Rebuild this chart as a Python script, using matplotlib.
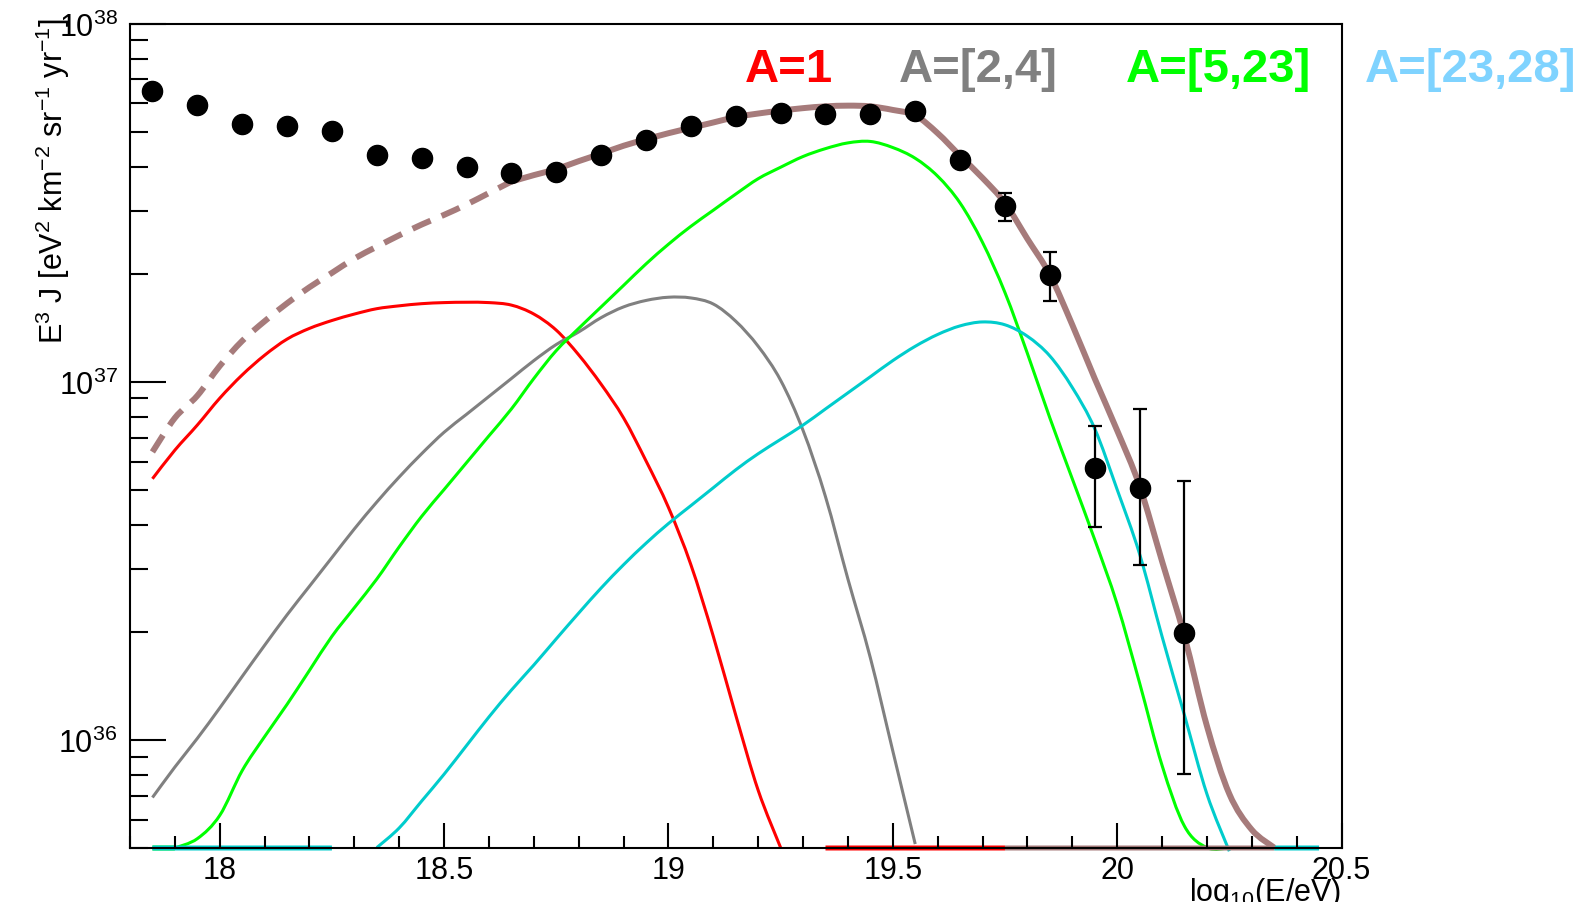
import numpy as np
import matplotlib.pyplot as plt
from matplotlib.path import Path
from matplotlib.patches import PathPatch
from matplotlib.ticker import MultipleLocator, FormatStrFormatter, LogLocator, NullFormatter

plt.rcParams['font.family'] = ['Liberation Sans', 'DejaVu Sans']
plt.rcParams['mathtext.fontset'] = 'custom'
plt.rcParams['mathtext.rm'] = 'Liberation Sans'
plt.rcParams['mathtext.it'] = 'Liberation Sans:italic'
plt.rcParams['mathtext.bf'] = 'Liberation Sans:bold'

# log10(E/eV) grid of the model curves
Z = -np.inf      # zero flux -> drawn on the frame floor (as ROOT does)
nan = np.nan     # not drawn
log_e = np.round(np.arange(17.85, 20.451, 0.05), 2)

# model curves, log10(E^3 J)
red_logs = [36.73, 36.81, 36.88, 36.955, 37.02, 37.075, 37.12, 37.15, 37.172, 37.19,
            37.205, 37.213, 37.219, 37.222, 37.223, 37.222, 37.215, 37.19, 37.145, 37.076,
            36.994, 36.90, 36.78, 36.65, 36.49, 36.29, 36.07, 35.86, 35.70, nan,
            Z, Z, Z, Z, Z, Z, Z, Z, Z, nan,
            nan, nan, nan, nan, nan, nan, nan, nan, nan, nan,
            nan, nan, nan]
gray_logs = [35.84, 35.925, 36.005, 36.09, 36.178, 36.265, 36.35, 36.43, 36.51, 36.59,
             36.665, 36.735, 36.80, 36.86, 36.91, 36.96, 37.01, 37.06, 37.105, 37.14,
             37.18, 37.21, 37.228, 37.237, 37.235, 37.218, 37.17, 37.10, 37.005, 36.865,
             36.68, 36.45, 36.23, 35.97, 35.71, nan, nan, nan, nan, nan,
             nan, nan, nan, nan, nan, nan, nan, nan, nan, nan,
             nan, nan, nan]
green_logs = [Z, Z, 35.725, 35.79, 35.915, 36.01, 36.10, 36.195, 36.29, 36.37,
              36.45, 36.54, 36.625, 36.70, 36.775, 36.85, 36.925, 37.01, 37.088, 37.15,
              37.21, 37.27, 37.33, 37.385, 37.435, 37.48, 37.525, 37.568, 37.60, 37.63,
              37.652, 37.668, 37.672, 37.655, 37.625, 37.575, 37.50, 37.39, 37.25, 37.08,
              36.90, 36.73, 36.56, 36.38, 36.16, 35.93, 35.76, 35.70, Z, nan,
              nan, nan, nan]
cyan_logs = [Z, Z, Z, Z, Z, Z, Z, Z, Z, nan,
             35.70, 35.755, 35.83, 35.905, 35.985, 36.065, 36.14, 36.21, 36.283, 36.355,
             36.425, 36.49, 36.55, 36.605, 36.655, 36.705, 36.755, 36.80, 36.84, 36.88,
             36.925, 36.97, 37.015, 37.06, 37.10, 37.133, 37.157, 37.168, 37.16, 37.128,
             37.073, 36.985, 36.87, 36.70, 36.52, 36.29, 36.07, 35.85, 35.69, nan,
             Z, Z, Z]
# sum: solid fit above the ankle, dashed extrapolation below it
fit_logs = [nan, nan, nan, nan, nan, nan, nan, nan, nan, nan,
            nan, nan, nan, nan, nan, nan, 37.56, 37.578, 37.595, 37.617,
            37.638, 37.66, 37.678, 37.695, 37.71, 37.725, 37.74, 37.75, 37.758, 37.765,
            37.77, 37.772, 37.77, 37.76, 37.745, 37.695, 37.632, 37.57, 37.50, 37.40,
            37.30, 37.16, 37.01, 36.865, 36.71, 36.50, 36.29, 36.04, 35.85, 35.75,
            35.70, nan, nan]
extrap_logs = [36.805, 36.90, 36.962, 37.045, 37.115, 37.17, 37.22, 37.265, 37.305, 37.345,
               37.378, 37.41, 37.44, 37.467, 37.496, 37.528, 37.56, nan, nan, nan,
               nan, nan, nan, nan, nan, nan, nan, nan, nan, nan,
               nan, nan, nan, nan, nan, nan, nan, nan, Z, Z,
               Z, Z, Z, Z, Z, Z, Z, Z, Z, Z,
               Z, nan, nan]

# measured spectrum
pts_e = [17.85, 17.95, 18.05, 18.15, 18.25, 18.35, 18.45, 18.55, 18.65, 18.75, 18.85, 18.95,
         19.05, 19.15, 19.25, 19.35, 19.45, 19.55, 19.65, 19.75, 19.85, 19.95, 20.05, 20.15]
pts_logs = [37.814, 37.774, 37.720, 37.715, 37.701, 37.633, 37.627, 37.602, 37.585, 37.588,
            37.633, 37.675, 37.715, 37.743, 37.751, 37.749, 37.749, 37.757, 37.619, 37.492,
            37.299, 36.760, 36.705, 36.299]
pts_lo_logs = [nan] * 19 + [37.450, 37.226, 36.595, 36.489, 35.905]
pts_hi_logs = [nan] * 19 + [37.528, 37.363, 36.877, 36.925, 36.723]

labels = ['A=1', 'A=[2,4]', 'A=[5,23]', 'A=[23,28]']
label_colors = ['#ff0000', '#808080', '#00ff00', '#7fd3ff']

YMIN, YMAX = 5e35, 1e38
LOG_FLOOR = np.log10(YMIN)


def smooth_runs(x, logs):
    """Split a curve at NaNs and yield (is_floor, Path) drawn as a smooth
    curve through the points (like ROOT's 'C' option), in log-y space."""
    ly = np.array(logs, dtype=float)
    floor = np.isneginf(ly)
    ly[floor] = LOG_FLOOR
    ok = ~np.isnan(ly)
    idx = np.flatnonzero(ok)
    runs = np.split(idx, np.flatnonzero(np.diff(idx) > 1) + 1)
    for run in runs:
        if len(run) < 2:
            continue
        # floor part and curved part are drawn separately
        fl = floor[run]
        pieces = np.split(run, np.flatnonzero(np.diff(fl.astype(int)) != 0) + 1)
        for k, piece in enumerate(pieces):
            on_floor = floor[piece[0]]
            if not on_floor and k + 1 < len(pieces):
                piece = np.append(piece, pieces[k + 1][0])
            if not on_floor and k > 0:
                piece = np.insert(piece, 0, pieces[k - 1][-1])
            if len(piece) < 2:
                continue
            px, py = x[piece], ly[piece]
            verts = [(px[0], py[0])]
            codes = [Path.MOVETO]
            n = len(px)
            for i in range(n - 1):
                i0, i3 = max(i - 1, 0), min(i + 2, n - 1)
                c1 = (px[i] + (px[i + 1] - px[i0]) / 6, py[i] + (py[i + 1] - py[i0]) / 6)
                c2 = (px[i + 1] - (px[i3] - px[i]) / 6, py[i + 1] - (py[i3] - py[i]) / 6)
                verts += [c1, c2, (px[i + 1], py[i + 1])]
                codes += [Path.CURVE4] * 3
            verts = [(vx, 10.0 ** vy) for vx, vy in verts]
            yield on_floor, Path(verts, codes)


def draw_curve(ax, logs, color, lw, dashes=None, floor_lw=3.6):
    for on_floor, path in smooth_runs(log_e, logs):
        kw = dict(fill=False, edgecolor=color, clip_on=False, capstyle='butt')
        if on_floor:
            ax.add_patch(PathPatch(path, lw=floor_lw, **kw))
        elif dashes is not None:
            ax.add_patch(PathPatch(path, lw=lw, linestyle=(0, dashes), **kw))
        else:
            ax.add_patch(PathPatch(path, lw=lw, joinstyle='round', **kw))


fig = plt.figure(figsize=(15.83, 9.03), dpi=100)
ax = fig.add_axes([130 / 1583, 1 - 849 / 903, 1211.5 / 1583, 824 / 903])
ax.set_xlim(17.8, 20.5)
ax.set_yscale('log')
ax.set_ylim(YMIN, YMAX)

draw_curve(ax, red_logs, '#ff0000', 2.2)
draw_curve(ax, gray_logs, '#808080', 2.2)
draw_curve(ax, green_logs, '#00ff00', 2.2)
draw_curve(ax, cyan_logs, '#00cccc', 2.2)
draw_curve(ax, extrap_logs, '#a67b7b', 4.3, dashes=(3.3, 2.0))
draw_curve(ax, fit_logs, '#a67b7b', 4.3)

flux = 10.0 ** np.array(pts_logs)
lo = np.where(np.isnan(pts_lo_logs), flux, 10.0 ** np.array(pts_lo_logs))
hi = np.where(np.isnan(pts_hi_logs), flux, 10.0 ** np.array(pts_hi_logs))
ax.errorbar(pts_e, flux, yerr=[flux - lo, hi - flux], fmt='o', color='black',
            ms=14.5, elinewidth=1.6, capsize=5, capthick=1.6, zorder=5)

ax.set_xlim(17.8, 20.5)
ax.set_ylim(YMIN, YMAX)

ax.xaxis.set_major_locator(MultipleLocator(0.5))
ax.xaxis.set_minor_locator(MultipleLocator(0.1))
ax.xaxis.set_major_formatter(FormatStrFormatter('%g'))
ax.yaxis.set_major_locator(LogLocator(base=10))
ax.yaxis.set_minor_locator(LogLocator(base=10, subs=np.arange(2, 10)))
ax.yaxis.set_minor_formatter(NullFormatter())

ax.tick_params(axis='both', which='both', direction='in', width=1.5,
               top=False, right=False, labelsize=22)
ax.tick_params(axis='x', which='major', length=18, pad=5)
ax.tick_params(axis='x', which='minor', length=9)
ax.tick_params(axis='y', which='major', length=26, pad=9)
ax.tick_params(axis='y', which='minor', length=13)
for s in ax.spines.values():
    s.set_linewidth(1.5)

fig.text(53 / 1583, 1 - 18 / 903,
         r'E$^{3}$ J [eV$^{2}$ km$^{-2}$ sr$^{-1}$ yr$^{-1}$]',
         rotation=90, ha='center', va='top', fontsize=22)
fig.text(1341 / 1583, 1 - 876 / 903, r'log$_{10}$(E/eV)',
         ha='right', va='top', fontsize=22)

label_x = [745, 899, 1126, 1365]
for txt, col, xp in zip(labels, label_colors, label_x):
    fig.text(xp / 1583, 1 - 82 / 903, txt, color=col, fontsize=34,
             fontweight='bold', ha='left', va='baseline')

fig.savefig('out.png', dpi=100)
